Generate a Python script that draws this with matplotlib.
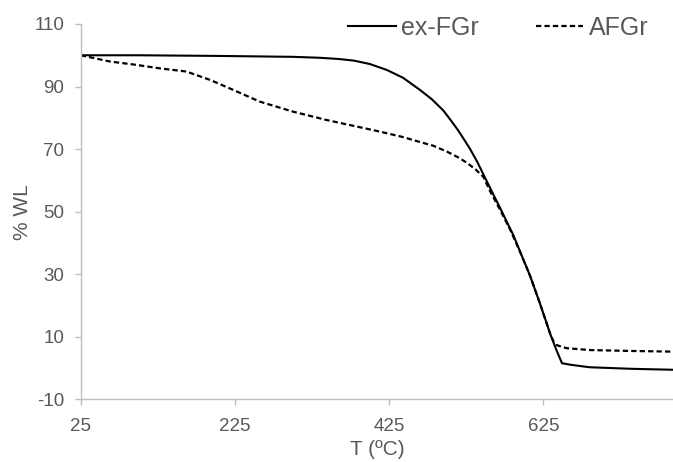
import matplotlib
matplotlib.use("Agg")
import matplotlib.pyplot as plt

plt.rcParams['font.family'] = ['Liberation Sans', 'DejaVu Sans']
plt.rcParams['axes.unicode_minus'] = False

# ex-FGr (solid)
t_exfgr = [25, 100, 200, 300, 335, 360, 379, 400, 422, 443, 465, 480, 495, 504, 515, 530,
           539, 556, 568, 586, 597, 608, 621, 634, 641, 649, 660, 685, 740, 793]
wl_exfgr = [100, 100, 99.8, 99.5, 99.2, 98.8, 98.3, 97.2, 95.3, 92.8, 88.9, 86.0, 82.4,
            79.5, 75.8, 70.0, 66.0, 57.5, 51.6, 42.5, 35.9, 29.3, 20.3, 10.8, 6.3, 1.6,
            1.1, 0.3, -0.2, -0.5]

# AFGr (dashed)
t_afgr = [25, 63, 95, 128, 162, 193, 223, 257, 300, 344, 387, 413, 444, 456, 482, 500,
          515, 526, 537, 547, 556, 568, 582, 595, 608, 621, 634, 638, 642, 648, 655, 685,
          740, 793]
wl_afgr = [100, 98.0, 97.0, 95.8, 94.8, 92.1, 88.9, 85.2, 82.0, 79.3, 77.0, 75.6, 73.8,
           72.9, 71.1, 69.2, 67.3, 65.6, 63.5, 61.2, 56.5, 51.0, 44.2, 37.0, 29.3, 20.3,
           10.8, 8.6, 7.4, 6.9, 6.4, 5.8, 5.5, 5.3]

x_ticks = [25, 225, 425, 625]
y_ticks = [-10, 10, 30, 50, 70, 90, 110]

grey_txt = '#595959'
grey_ax = '#bfbfbf'

fig = plt.figure(figsize=(6.73, 4.62), dpi=100)
ax = fig.add_axes([0.12, 0.1353, 0.88, 0.8128])

ax.plot(t_exfgr, wl_exfgr, color='black', lw=1.5, label='ex-FGr')
ax.plot(t_afgr, wl_afgr, color='black', lw=1.6, linestyle=(0, (2.4, 1.4)), label='AFGr')

ax.set_xlim(25, 793)
ax.set_ylim(-10, 110)
ax.set_xticks(x_ticks)
ax.set_yticks(y_ticks)

for s in ['top', 'right']:
    ax.spines[s].set_visible(False)
for s in ['left', 'bottom']:
    ax.spines[s].set_color(grey_ax)
    ax.spines[s].set_linewidth(1.0)

ax.tick_params(axis='both', direction='out', length=4, width=1.0, color=grey_ax,
               labelcolor=grey_txt, labelsize=13.5)
ax.tick_params(axis='x', pad=9)
ax.tick_params(axis='y', pad=8)

ax.set_xlabel('T (ºC)', fontsize=15, color=grey_txt)
ax.set_ylabel('% WL', fontsize=15, color=grey_txt)
ax.xaxis.set_label_coords(0.5, -0.108)
ax.yaxis.set_label_coords(-0.083, 0.5)

leg = fig.legend(loc='center right', bbox_to_anchor=(0.963, 0.939), ncol=2, frameon=False,
                 fontsize=18, handlelength=1.9, handletextpad=0.2, columnspacing=2.3,
                 borderpad=0, borderaxespad=0)
for txt in leg.get_texts():
    txt.set_color(grey_txt)

fig.savefig('out.png', dpi=100)
